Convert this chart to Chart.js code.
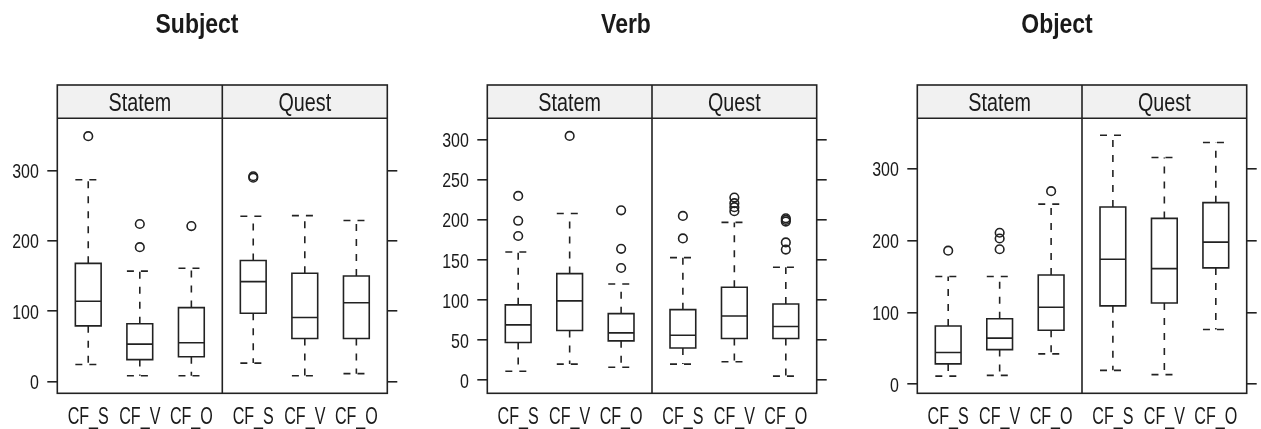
<!DOCTYPE html>
<html>
<head>
<meta charset="utf-8">
<script src="https://cdn.jsdelivr.net/npm/chart.js@4.4.1/dist/chart.umd.min.js"></script>
<style>
  html, body { margin: 0; padding: 0; background: #fff; width: 1261px; height: 429px; overflow: hidden; position: relative; }
  canvas { position: absolute; top: 0; }
</style>
</head>
<body>
<canvas id="panel0" width="406" height="429" style="left:-6px"></canvas>
<canvas id="panel1" width="452" height="429" style="left:400px"></canvas>
<canvas id="panel2" width="410" height="429" style="left:852px"></canvas>
<script>
// ---- data ---------------------------------------------------------------
const panelTitles = ['Subject', 'Verb', 'Object'];
const sentenceTypes = ['Statem', 'Quest'];
const groups = ['CF_S', 'CF_V', 'CF_O'];

// five-number summaries: [lower whisker, Q1, median, Q3, upper whisker]
// order: CF_S, CF_V, CF_O for Statem, then CF_S, CF_V, CF_O for Quest
const subjectStats = [
  [24, 79, 114, 168, 287], [8, 31, 53, 82, 157], [8, 35, 55, 105, 161],
  [26, 97, 142, 172, 235], [8, 61, 91, 154, 236], [11, 61, 112, 150, 229]
];
const subjectOutliers = [[349], [191, 224], [221], [290, 292], [], []];

const verbStats = [
  [11, 47, 69, 94, 160], [20, 62, 99, 133, 208], [16, 49, 59, 83, 120],
  [20, 40, 56, 88, 153], [23, 52, 80, 116, 197], [5, 52, 67, 95, 141]
];
const verbOutliers = [[180, 199, 230], [305], [140, 164, 212], [177, 205], [211, 216, 221, 228], [163, 172, 198, 200, 202]];

const objectStats = [
  [11, 28, 44, 81, 150], [12, 48, 64, 91, 150], [42, 75, 107, 152, 251],
  [19, 109, 174, 247, 347], [13, 113, 161, 231, 316], [76, 162, 198, 253, 337]
];
const objectOutliers = [[186], [188, 203, 211], [269], [], [], []];

const subjectTicks = [0, 100, 200, 300];
const verbTicks = [0, 50, 100, 150, 200, 250, 300];
const objectTicks = [0, 100, 200, 300];

const subjectLimits = [-17, 374.5];
const verbLimits = [-16.5, 327];
const objectLimits = [-13, 370.7];

// ---- styling & geometry -------------------------------------------------
const INK = '#222222';
const TEXT = '#1a1a1a';
const STRIP_BG = '#f1f1f1';
const FAMILY = '"Liberation Sans", Arial, sans-serif';
// condensed lettering: font size, weight and horizontal squeeze
const TITLE_FONT = { size: 28, weight: 'bold', squeeze: 0.82 };
const STRIP_FONT = { size: 25, weight: 'normal', squeeze: 0.79 };
const XLABEL_FONT = { size: 23, weight: 'normal', squeeze: 0.7 };
const YLABEL_FONT = { size: 21, weight: 'normal', squeeze: 0.76 };

const LINE_W = 1.6;
const BOX_HALF = 0.25;        // half box width in x units
const SUB_SPAN = 3.2;         // each strip spans 0.4 .. 3.6
const X_MIN = 0.4, X_MAX = 0.4 + 2 * SUB_SPAN;

// x position of each box: three groups per sentence type
const xPositions = [];
sentenceTypes.forEach((_, s) => groups.forEach((_, g) => xPositions.push(s * SUB_SPAN + g + 1)));
const xLabels = [];
sentenceTypes.forEach(() => groups.forEach(g => xLabels.push(g)));
const stripCenters = sentenceTypes.map((_, s) => s * SUB_SPAN + 2);

const panels = [
  { title: panelTitles[0], stats: subjectStats, outliers: subjectOutliers, ticks: subjectTicks, limits: subjectLimits },
  { title: panelTitles[1], stats: verbStats, outliers: verbOutliers, ticks: verbTicks, limits: verbLimits },
  { title: panelTitles[2], stats: objectStats, outliers: objectOutliers, ticks: objectTicks, limits: objectLimits }
];
// canvas-relative frame of each plotting region
const frames = [
  { areaLeft: 63.3, areaWidth: 330 },
  { areaLeft: 87.3, areaWidth: 329.4 },
  { areaLeft: 65.3, areaWidth: 329.4 }
];
const STRIP_TOP = 85, AREA_TOP = 118.3, AREA_BOTTOM = 393.3, CANVAS_H = 429;
const TICK_LEN = 10, YLABEL_GAP = 8.5;
const TITLE_BASE = 33, STRIP_BASE = 110.8, XLABEL_BASE = 423.5;

function drawNarrow(ctx, text, px, py, align, spec) {
  ctx.save();
  ctx.translate(px, py);
  ctx.scale(spec.squeeze, 1);
  ctx.font = `${spec.weight} ${spec.size}px ${FAMILY}`;
  ctx.fillStyle = TEXT;
  ctx.textAlign = align;
  ctx.textBaseline = 'alphabetic';
  ctx.fillText(text, 0, 0);
  ctx.restore();
}

// ---- plugins ------------------------------------------------------------
const headline = {
  id: 'headline',
  afterDraw(chart, args, opts) {
    drawNarrow(chart.ctx, opts.text, chart.width / 2, TITLE_BASE, 'center', TITLE_FONT);
  }
};

const stripFrame = {
  id: 'stripFrame',
  beforeDraw(chart) {
    const { ctx, chartArea: a, scales: { xs } } = chart;
    ctx.save();
    ctx.fillStyle = STRIP_BG;
    ctx.fillRect(a.left, xs.top, a.right - a.left, a.top - xs.top);
    ctx.restore();
  },
  afterDraw(chart) {
    const { ctx, chartArea: a, scales: { xs, x } } = chart;
    const divider = x.getPixelForValue(X_MIN + SUB_SPAN);
    ctx.save();
    ctx.strokeStyle = INK;
    ctx.lineWidth = 1.6;
    ctx.strokeRect(a.left, xs.top, a.right - a.left, a.bottom - xs.top);
    ctx.beginPath();
    ctx.moveTo(a.left, a.top); ctx.lineTo(a.right, a.top);
    ctx.moveTo(divider, xs.top); ctx.lineTo(divider, a.bottom);
    ctx.stroke();
    ctx.restore();
  }
};

// tick labels of the three scales, set in condensed lettering
const narrowLabels = {
  id: 'narrowLabels',
  afterDraw(chart) {
    const { ctx, scales: { x, xs, y } } = chart;
    x.ticks.forEach(t => drawNarrow(ctx, t.label, x.getPixelForValue(t.value), XLABEL_BASE, 'center', XLABEL_FONT));
    xs.ticks.forEach(t => drawNarrow(ctx, t.label, xs.getPixelForValue(t.value), STRIP_BASE, 'center', STRIP_FONT));
    const capHalf = YLABEL_FONT.size * 0.716 / 2;
    y.ticks.forEach(t => drawNarrow(ctx, t.label, y.right - TICK_LEN - YLABEL_GAP, y.getPixelForValue(t.value) + capHalf, 'right', YLABEL_FONT));
  }
};

// ---- box-and-whisker datasets --------------------------------------------
function buildDatasets(stats, outliers) {
  const boxes = [], medians = [], whiskers = [], caps = [], points = [];
  stats.forEach((s, i) => {
    const x = xPositions[i];
    const [lo, q1, med, q3, hi] = s;
    const l = x - BOX_HALF, r = x + BOX_HALF;
    boxes.push({ x: l, y: q1 }, { x: r, y: q1 }, { x: r, y: q3 }, { x: l, y: q3 }, { x: l, y: q1 }, { x, y: null });
    medians.push({ x: l, y: med }, { x: r, y: med }, { x, y: null });
    whiskers.push({ x, y: q3 }, { x, y: hi }, { x, y: null }, { x, y: q1 }, { x, y: lo }, { x, y: null });
    caps.push({ x: l, y: hi }, { x: r, y: hi }, { x, y: null }, { x: l, y: lo }, { x: r, y: lo }, { x, y: null });
    outliers[i].forEach(v => points.push({ x, y: v }));
  });
  const line = (data, extra) => Object.assign({
    data, showLine: true, spanGaps: false, borderColor: INK, borderWidth: LINE_W,
    pointRadius: 0, fill: false, tension: 0
  }, extra);
  return [
    line(boxes, { borderJoinStyle: 'miter', borderCapStyle: 'square' }),
    line(medians, {}),
    line(whiskers, { borderDash: [7, 8] }),
    line(caps, { borderDash: [7, 7] }),
    {
      data: points, showLine: false, pointStyle: 'circle', pointRadius: 4.3,
      pointBorderWidth: LINE_W, pointBorderColor: INK, pointBackgroundColor: 'rgba(0,0,0,0)'
    }
  ];
}

// ---- charts ---------------------------------------------------------------
panels.forEach((p, k) => {
  const canvas = document.getElementById('panel' + k);
  const f = frames[k];
  const rightPad = canvas.width - f.areaLeft - f.areaWidth - TICK_LEN;
  const yCommon = {
    type: 'linear', min: p.limits[0], max: p.limits[1],
    afterBuildTicks: s => { s.ticks = p.ticks.map(v => ({ value: v })); },
    ticks: { display: false },
    grid: { display: true, drawOnChartArea: false, drawTicks: true, tickLength: TICK_LEN, color: INK, lineWidth: LINE_W },
    border: { display: false }
  };
  new Chart(canvas, {
    type: 'scatter',
    data: { datasets: buildDatasets(p.stats, p.outliers) },
    options: {
      responsive: false, animation: false, events: [],
      layout: { padding: { top: STRIP_TOP, bottom: 0, left: 0, right: rightPad } },
      plugins: { legend: { display: false }, tooltip: { enabled: false }, title: { display: false }, headline: { text: p.title } },
      scales: {
        x: {
          type: 'linear', position: 'bottom', min: X_MIN, max: X_MAX,
          afterBuildTicks: s => { s.ticks = xPositions.map(v => ({ value: v })); },
          afterFit: s => { s.height = CANVAS_H - AREA_BOTTOM; },
          ticks: { display: false, autoSkip: false, callback: (v, i) => xLabels[i] },
          grid: { display: false, drawTicks: false }, border: { display: false }
        },
        xs: {
          type: 'linear', position: 'top', min: X_MIN, max: X_MAX,
          afterBuildTicks: s => { s.ticks = stripCenters.map(v => ({ value: v })); },
          afterFit: s => { s.height = AREA_TOP - STRIP_TOP; },
          ticks: { display: false, autoSkip: false, callback: (v, i) => sentenceTypes[i] },
          grid: { display: false, drawTicks: false }, border: { display: false }
        },
        y: Object.assign({}, yCommon, {
          position: 'left',
          afterFit: s => { s.width = f.areaLeft; }
        }),
        y2: Object.assign({}, yCommon, {
          position: 'right',
          afterFit: s => { s.width = TICK_LEN; }
        })
      }
    },
    plugins: [stripFrame, narrowLabels, headline]
  });
});
</script>
</body>
</html>
